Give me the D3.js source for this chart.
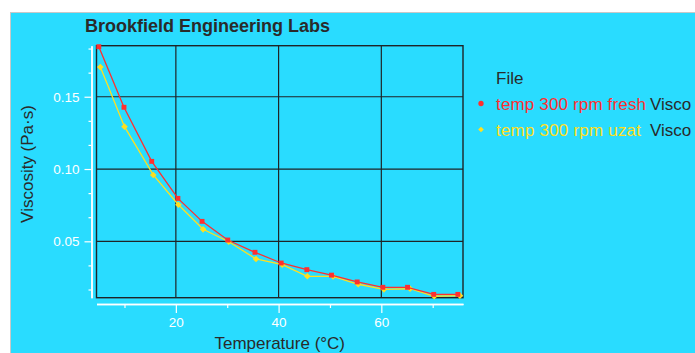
<!DOCTYPE html>
<html>
<head>
<meta charset="utf-8">
<script src="https://cdn.jsdelivr.net/npm/d3@7"></script>
<style>
  html, body { margin: 0; padding: 0; background: #ffffff; overflow: hidden; }
  text { font-family: "Liberation Sans", Arial, sans-serif; }
</style>
</head>
<body>
<div id="chart"></div>
<script>
// temperature (°C) and viscosity (Pa·s)
const freshTemp = [5.0, 9.9, 15.3, 20.4, 25.1, 30.1, 35.4, 40.5, 45.5, 50.3, 55.3, 60.3, 65.1, 70.2, 74.9];
const freshVisc = [0.1846, 0.1427, 0.1053, 0.0797, 0.0638, 0.0509, 0.0424, 0.0350, 0.0304, 0.0266, 0.0219, 0.0182, 0.0182, 0.0133, 0.0133];
const uzatTemp = [5.3, 10.0, 15.6, 20.5, 25.3, 30.3, 35.6, 40.7, 45.6, 50.6, 55.5, 60.5, 65.6, 70.3, 75.3];
const uzatVisc = [0.1705, 0.1293, 0.0959, 0.0753, 0.0583, 0.0497, 0.0378, 0.0338, 0.0258, 0.0257, 0.0203, 0.0168, 0.0172, 0.0120, 0.0124];
const seriesNames = ["temp 300 rpm fresh", "temp 300 rpm uzat"];
const seriesColors = ["#ff2f2f", "#ffdf1f"];
const xTicks = [20, 40, 60];
const xMinorTicks = [10, 30, 50, 70];
const yTicks = [0.05, 0.10, 0.15];

const width = 695, height = 353;
const bg = "#29dcff", ink = "#2a2a2a", gridInk = "#1f2326";

const svg = d3.select("#chart").append("svg")
  .attr("width", width)
  .attr("height", height);

// panel
svg.append("rect")
  .attr("x", 11).attr("y", 13)
  .attr("width", width).attr("height", height)
  .attr("fill", bg);
svg.append("line").attr("x1", 11).attr("x2", width).attr("y1", 12.5).attr("y2", 12.5)
  .attr("stroke", "#c8c8c8");
svg.append("line").attr("x1", 10.5).attr("x2", 10.5).attr("y1", 12).attr("y2", height)
  .attr("stroke", "#c8c8c8");

const x = d3.scaleLinear().domain([4.55, 75.9]).range([96.5, 463]);
const y = d3.scaleLinear().domain([0.011, 0.1853]).range([297.7, 45.7]);

// grid
const grid = svg.append("g").attr("stroke", gridInk).attr("stroke-width", 1.2);
grid.selectAll(".vg").data(xTicks).join("line")
  .attr("x1", d => x(d)).attr("x2", d => x(d))
  .attr("y1", y.range()[1]).attr("y2", y.range()[0]);
grid.selectAll(".hg").data(yTicks).join("line")
  .attr("y1", d => y(d)).attr("y2", d => y(d))
  .attr("x1", x.range()[0]).attr("x2", x.range()[1]);
svg.append("rect")
  .attr("x", x.range()[0]).attr("y", y.range()[1])
  .attr("width", x.range()[1] - x.range()[0])
  .attr("height", y.range()[0] - y.range()[1])
  .attr("fill", "none").attr("stroke", gridInk).attr("stroke-width", 1.4);

// axes
function styleAxis(g) {
  g.select(".domain").attr("stroke", "#ffffff").attr("stroke-width", 1.5);
  g.selectAll(".tick line").attr("stroke", "#ffffff").attr("stroke-width", 1.2);
  g.selectAll(".tick text").attr("fill", "#ffffff")
    .style("font-family", "'Liberation Sans', Arial, sans-serif")
    .style("font-size", "13.5px");
}

const yMinor = d3.range(1, 12).map(k => k / 60).filter(v => v > y.domain()[0] && v < y.domain()[1] && Math.abs(v * 20 - Math.round(v * 20)) > 1e-6);

svg.append("g")
  .attr("transform", "translate(91.5,0)")
  .call(d3.axisLeft(y).tickValues(yMinor).tickSize(3).tickFormat("").tickSizeOuter(0))
  .call(styleAxis);
svg.append("g")
  .attr("transform", "translate(91.5,0)")
  .call(d3.axisLeft(y).tickValues(yTicks).tickSize(7).tickSizeOuter(0).tickPadding(5).tickFormat(d3.format(".2f")))
  .call(styleAxis);

svg.append("g")
  .attr("transform", "translate(0,304)")
  .call(d3.axisBottom(x).tickValues(xMinorTicks).tickSize(4).tickFormat("").tickSizeOuter(0))
  .call(styleAxis);
svg.append("g")
  .attr("transform", "translate(0,304)")
  .call(d3.axisBottom(x).tickValues(xTicks).tickSize(9).tickSizeOuter(0).tickPadding(4))
  .call(styleAxis);

// series (diamond = square turned 45°)
const series = [
  { name: seriesNames[1], color: seriesColors[1], shape: d3.symbolSquare, size: 22, rot: 45,
    pts: uzatTemp.map((t, i) => [t, uzatVisc[i]]) },
  { name: seriesNames[0], color: seriesColors[0], shape: d3.symbolSquare, size: 24, rot: 0,
    pts: freshTemp.map((t, i) => [t, freshVisc[i]]) }
];

const line = d3.line().x(d => x(d[0])).y(d => y(d[1]));
series.forEach(s => {
  svg.append("path").datum(s.pts)
    .attr("d", line)
    .attr("fill", "none")
    .attr("stroke", s.color)
    .attr("stroke-width", 1.3);
  svg.selectAll(null).data(s.pts).join("path")
    .attr("transform", d => `translate(${x(d[0])},${y(d[1])}) rotate(${s.rot})`)
    .attr("d", d3.symbol(s.shape, s.size))
    .attr("fill", s.color);
});

// title and axis labels
svg.append("text")
  .attr("x", 207.5).attr("y", 32)
  .attr("text-anchor", "middle")
  .attr("fill", ink)
  .style("font-size", "18px").style("font-weight", "bold")
  .text("Brookfield Engineering Labs");

svg.append("text")
  .attr("x", (x.range()[0] + x.range()[1]) / 2).attr("y", 349)
  .attr("text-anchor", "middle")
  .attr("fill", ink)
  .style("font-size", "17px")
  .text("Temperature (°C)");

svg.append("text")
  .attr("transform", "translate(33,164) rotate(-90)")
  .attr("text-anchor", "middle")
  .attr("fill", ink)
  .style("font-size", "17px")
  .text("Viscosity (Pa·s)");

// legend
const legend = svg.append("g");
legend.append("text")
  .attr("x", 496).attr("y", 84)
  .attr("fill", ink).style("font-size", "17px")
  .text("File");
const legendRows = [
  { name: seriesNames[0], color: seriesColors[0], shape: d3.symbolCircle, size: 22, rot: 0 },
  { name: seriesNames[1], color: seriesColors[1], shape: d3.symbolSquare, size: 16, rot: 45 }
];
legendRows.forEach((r, i) => {
  const yy = 110 + i * 26;
  legend.append("path")
    .attr("transform", `translate(481,${yy - 6.5}) rotate(${r.rot})`)
    .attr("d", d3.symbol(r.shape, r.size))
    .attr("fill", r.color);
  legend.append("text")
    .attr("x", 496).attr("y", yy)
    .attr("fill", r.color).style("font-size", "17px")
    .attr("textLength", i === 0 ? 150 : 145)
    .text(r.name);
  legend.append("text")
    .attr("x", 650).attr("y", yy)
    .attr("fill", ink).style("font-size", "17px")
    .text("Visco");
});
</script>
</body>
</html>
